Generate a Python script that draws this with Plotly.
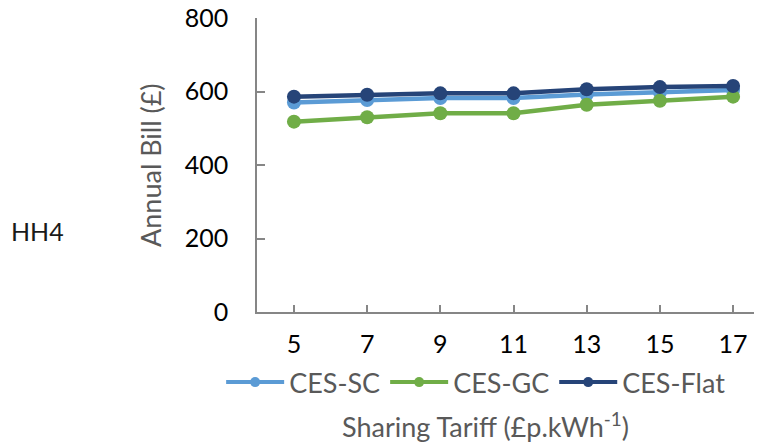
import plotly.graph_objects as go

tariff = [5, 7, 9, 11, 13, 15, 17]
ces_sc = [570, 577, 582, 582, 592, 598, 604]
ces_gc = [518, 530, 541, 541, 564, 575, 586]
ces_flat = [586, 591, 595, 595, 606, 612, 615]
y_ticks = [0, 200, 400, 600, 800]

names = ["CES-SC", "CES-GC", "CES-Flat"]
colors = ["#5B9BD5", "#70AD47", "#264478"]
series = [ces_sc, ces_gc, ces_flat]

FONT = "Lato"
GRAY = "#595959"
FS = 25
FS2 = 27

fig = go.Figure()
for n, c, s in zip(names, colors, series):
    fig.add_trace(go.Scatter(x=tariff, y=s, name=n, mode="lines+markers",
                             line=dict(color=c, width=4.5),
                             marker=dict(color=c, size=14),
                             showlegend=False))
for n, c in zip(names, colors):
    fig.add_trace(go.Scatter(x=[None], y=[None], name=n, mode="lines+markers",
                             line=dict(color=c, width=4),
                             marker=dict(color=c, size=10)))

fig.update_layout(
    width=754, height=434,
    margin=dict(l=249, r=0, t=10, b=129.5, autoexpand=False),
    plot_bgcolor="white", paper_bgcolor="white",
    font=dict(family=FONT, size=FS, color=GRAY),
    legend=dict(orientation="h", x=-0.071, y=-0.24, xanchor="left", yanchor="middle",
                font=dict(family=FONT, size=FS2, color=GRAY), itemwidth=58,
                tracegroupgap=0, bgcolor="rgba(0,0,0,0)"),
    xaxis=dict(range=[3.99, 17.79], tickmode="array", tickvals=tariff,
               ticktext=[str(t) for t in tariff],
               showgrid=False, zeroline=False, showline=True,
               linecolor="#868686", linewidth=1.5,
               ticks="inside", ticklen=7, tickcolor="#868686", tickwidth=1.5,
               tickfont=dict(family=FONT, size=FS, color="#000000"),
               ticklabelstandoff=9, ticklabeloverflow="allow"),
    yaxis=dict(range=[0, 800], tickmode="array", tickvals=y_ticks,
               showgrid=False, zeroline=False, showline=True,
               linecolor="#868686", linewidth=1.5,
               ticks="inside", ticklen=8, tickcolor="#868686", tickwidth=1.5,
               tickfont=dict(family=FONT, size=FS, color="#000000"),
               ticklabelstandoff=22, ticklabeloverflow="allow"),
)

fig.add_annotation(text="Annual Bill (£)", xref="paper", yref="paper",
                   x=-0.212, y=0.5, textangle=-90, showarrow=False,
                   xanchor="center", yanchor="middle",
                   font=dict(family=FONT, size=FS2, color=GRAY))
fig.add_annotation(text="Sharing Tariff (£p.kWh<sup>-1</sup>)", xref="paper", yref="paper",
                   x=0.453, y=-0.383, showarrow=False,
                   xanchor="center", yanchor="middle",
                   font=dict(family=FONT, size=FS2, color=GRAY))
fig.add_annotation(text="HH4", xref="paper", yref="paper",
                   x=-0.434, y=0.2755, showarrow=False,
                   xanchor="center", yanchor="middle",
                   font=dict(family=FONT, size=FS, color="#1a1a1a"))

fig.write_html("out.html")
